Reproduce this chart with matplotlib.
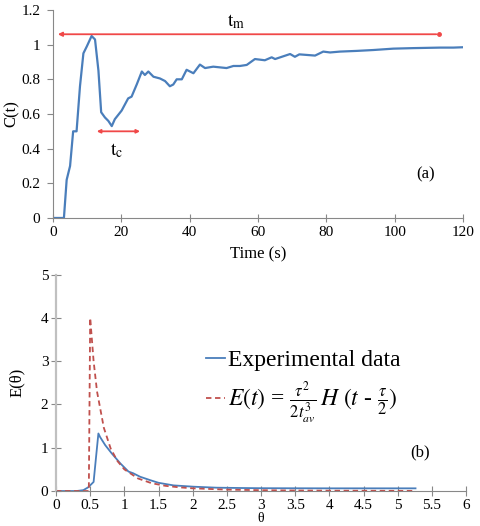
import matplotlib
matplotlib.use("Agg")
import matplotlib.pyplot as plt
from matplotlib.ticker import FuncFormatter

plt.rcParams['font.family'] = ['Liberation Serif', 'DejaVu Serif']
plt.rcParams['mathtext.fontset'] = 'stix'

# (a) tracer response C(t)
t_sec = [0, 3.2, 4.0, 5.0, 5.9, 6.9, 7.9, 8.9, 9.9, 11.3, 12.3, 13.3, 14.1, 15.2, 16.2,
         17.2, 18.1, 20.1, 22.0, 23.0, 24.5, 26.0, 26.9, 27.9, 29.4, 31.3, 32.8, 34.2,
         35.2, 36.2, 37.7, 39.1, 41.1, 43.0, 44.5, 46.9, 50.8, 52.8, 54.7, 56.7, 59.1,
         62.0, 64.0, 65.0, 69.4, 70.8, 72.1, 76.7, 79.1, 81.1, 84.0, 88.9, 93.7, 99.6,
         105.4, 113.3, 117.2, 119.9]
c_t = [0, 0, 0.22, 0.30, 0.50, 0.50, 0.76, 0.95, 0.99, 1.05, 1.03, 0.85, 0.61, 0.58, 0.56,
       0.53, 0.57, 0.62, 0.69, 0.70, 0.77, 0.845, 0.825, 0.845, 0.815, 0.805, 0.79, 0.76,
       0.77, 0.80, 0.80, 0.855, 0.835, 0.885, 0.865, 0.873, 0.865, 0.877, 0.877, 0.883, 0.917,
       0.91, 0.927, 0.917, 0.946, 0.93, 0.944, 0.937, 0.96, 0.955, 0.96, 0.964, 0.969, 0.977,
       0.98, 0.983, 0.983, 0.985]

# (b) dimensionless RTD E(theta)
theta_exp = [0, 0.3, 0.4, 0.47, 0.55, 0.586, 0.62, 0.644, 0.72, 0.815, 0.94, 1.06, 1.13,
             1.23, 1.38, 1.5, 1.72, 2.01, 2.35, 2.69, 3.0, 4.0, 5.26]
e_exp = [0, 0, 0.02, 0.085, 0.21, 0.79, 1.33, 1.25, 1.06, 0.87, 0.64, 0.45, 0.41,
         0.33, 0.25, 0.19, 0.13, 0.10, 0.077, 0.07, 0.065, 0.062, 0.062]
theta_mod = [0, 0.48, 0.5, 0.55, 0.6, 0.7, 0.8, 0.9, 1.0, 1.2, 1.4, 1.6, 1.8, 2.0,
             2.5, 3.0, 3.5, 4.0, 5.0, 5.23]
e_mod = [0, 0, 4.0, 3.0, 2.3, 1.46, 0.98, 0.69, 0.5, 0.29, 0.18, 0.12, 0.086, 0.0625,
         0.032, 0.019, 0.012, 0.008, 0.004, 0.003]

blue = '#4a7ebb'
dark_red = '#c0504d'
red = '#f04848'
spine_c = '#888888'
gfmt = FuncFormatter(lambda v, p: f'{v:g}')

fig = plt.figure(figsize=(4.8, 5.26), dpi=100)

# ---- top panel
ax1 = fig.add_axes([0.1104, 0.5856, 0.8542, 0.3954])
ax1.plot(t_sec, c_t, color=blue, lw=1.6)
ax1.set_xlim(0, 120)
ax1.set_ylim(0, 1.2)
ax1.set_xticks(range(0, 121, 20))
ax1.set_yticks([0, 0.2, 0.4, 0.6, 0.8, 1.0, 1.2])
ax1.xaxis.set_major_formatter(gfmt)
ax1.yaxis.set_major_formatter(gfmt)
ax1.set_xlabel('Time (s)', fontsize=12, labelpad=5)
ax1.set_ylabel('C(t)', fontsize=12)
ax1.yaxis.set_label_coords(-0.082, 0.5)
for s in ['top', 'right']:
    ax1.spines[s].set_visible(False)
for s in ['left', 'bottom']:
    ax1.spines[s].set_color(spine_c)
ax1.tick_params(axis='x', direction='inout', length=6, color=spine_c, labelsize=11, pad=3)
ax1.tick_params(axis='y', direction='out', length=4, color=spine_c, labelsize=11, pad=5)

ax1.annotate('', xy=(0.6, 1.06), xytext=(113, 1.06),
             arrowprops=dict(arrowstyle='-|>', color=red, lw=1.3, mutation_scale=6))
ax1.plot([113], [1.06], 'o', color=red, ms=2.5)
ax1.annotate('', xy=(12, 0.50), xytext=(26.3, 0.50),
             arrowprops=dict(arrowstyle='<|-|>', color=red, lw=1.3, mutation_scale=5))
ax1.text(53.5, 1.135, r'$\mathrm{t_m}$', fontsize=14, ha='center', va='center')
ax1.text(18.5, 0.39, r'$\mathrm{t_c}$', fontsize=14, ha='center', va='center')
ax1.text(109, 0.25, '(a)', fontsize=12, ha='center', va='center')

# ---- bottom panel
ax2 = fig.add_axes([0.1167, 0.0665, 0.8543, 0.4113])
ax2.plot(theta_exp, e_exp, color=blue, lw=1.3, label='Experimental data')
ax2.plot(theta_mod, e_mod, color=dark_red, lw=1.3, ls=(0, (3, 2)),
         label=r'$E(t)$ = $\frac{\tau^2}{2t_{av}^3}\,H\ (t$ - $\frac{\tau}{2})$')
ax2.set_xlim(0, 6)
ax2.set_ylim(0, 5)
ax2.set_xticks([i * 0.5 for i in range(13)])
ax2.set_yticks(range(6))
ax2.xaxis.set_major_formatter(gfmt)
ax2.yaxis.set_major_formatter(gfmt)
ax2.set_ylabel('E(θ)', fontsize=12)
ax2.yaxis.set_label_coords(-0.075, 0.5)
ax2.set_xlabel('θ', fontsize=10, labelpad=0)
for s in ['top', 'right']:
    ax2.spines[s].set_visible(False)
ax2.spines['left'].set_color('#c0c0c0')
ax2.spines['left'].set_linewidth(1.6)
ax2.spines['bottom'].set_color(spine_c)
ax2.tick_params(axis='both', direction='inout', length=7, color=spine_c, labelsize=11, pad=2)
ax2.text(5.33, 0.9, '(b)', fontsize=12, ha='center', va='center')
ax2.legend(loc='center left', bbox_to_anchor=(0.315, 0.477), frameon=False, fontsize=17,
           handlelength=0.8, handletextpad=0.1, labelspacing=0.35)

fig.savefig('out.png', dpi=100)
